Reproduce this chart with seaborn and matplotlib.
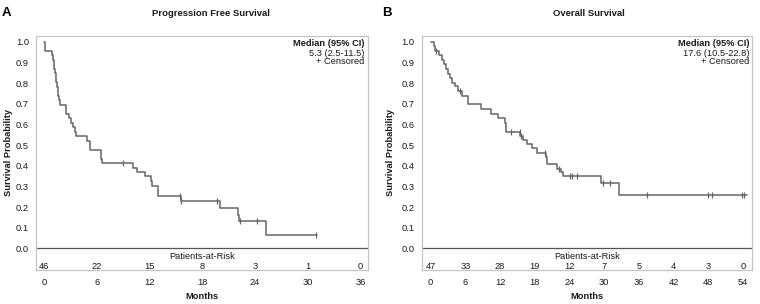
import numpy as np
import pandas as pd
import matplotlib
matplotlib.use("Agg")
import matplotlib.pyplot as plt
import seaborn as sns

# ---------------- data ----------------
# Progression free survival: event times (months) and survival after each event
pfs_times = [0.1, 0.85, 1.0, 1.08, 1.15, 1.22, 1.3, 1.38, 1.45, 1.52, 1.6, 1.68, 1.75,
             2.45, 2.5, 2.85, 3.0, 3.25, 3.5, 3.55, 4.9, 5.2, 5.25, 6.45, 6.5, 6.6,
             10.1, 10.5, 11.5, 12.2, 12.25, 12.9, 12.95, 15.6, 20.05, 22.1, 22.15, 25.2]
pfs_surv = [0.957, 0.935, 0.913, 0.891, 0.870, 0.848, 0.826, 0.804, 0.783, 0.761, 0.739, 0.717, 0.696,
            0.674, 0.652, 0.630, 0.609, 0.587, 0.565, 0.543, 0.522, 0.500, 0.478, 0.457, 0.435, 0.413,
            0.391, 0.370, 0.348, 0.324, 0.300, 0.277, 0.254, 0.228, 0.195, 0.163, 0.130, 0.065]
pfs_end = 31.0
pfs_cens_t = [8.95, 15.45, 15.6, 19.7, 22.3, 24.2, 30.9]
pfs_cens_s = [0.413, 0.254, 0.228, 0.228, 0.130, 0.130, 0.065]

# Overall survival
os_times = [0.5, 0.8, 1.5, 2.0, 2.3, 2.7, 3.0, 3.3, 3.6, 4.25, 4.7, 5.4, 6.4, 6.45,
            8.7, 10.4, 11.6, 12.9, 13.0, 13.1, 15.5, 16.0, 16.6, 17.5, 18.4, 19.9, 20.1,
            21.8, 22.6, 22.9, 29.4, 32.6]
os_surv = [0.979, 0.957, 0.935, 0.913, 0.891, 0.868, 0.846, 0.824, 0.802, 0.784, 0.762, 0.738, 0.716, 0.697,
           0.675, 0.652, 0.630, 0.608, 0.586, 0.564, 0.542, 0.524, 0.506, 0.487, 0.463, 0.440, 0.407,
           0.386, 0.370, 0.351, 0.315, 0.260]
os_end = 54.7
os_cens_t = [1.0, 5.05, 13.9, 15.4, 15.55, 19.7, 22.2, 24.1, 24.5, 25.4, 29.9, 31.0, 37.4, 47.9, 48.6, 53.8, 54.2]
os_cens_s = [0.957, 0.762, 0.564, 0.564, 0.542, 0.463, 0.386, 0.351, 0.351, 0.351, 0.315, 0.315,
             0.260, 0.260, 0.260, 0.260, 0.260]

pfs_xticks = [0, 6, 12, 18, 24, 30, 36]
pfs_risk = [46, 22, 15, 8, 3, 1, 0]
os_xticks = [0, 6, 12, 18, 24, 30, 36, 42, 48, 54]
os_risk = [47, 33, 28, 19, 12, 7, 5, 4, 3, 0]

yticks = [0.0, 0.1, 0.2, 0.3, 0.4, 0.5, 0.6, 0.7, 0.8, 0.9, 1.0]

titles = ["Progression Free Survival", "Overall Survival"]
medians = ["5.3 (2.5-11.5)", "17.6 (10.5-22.8)"]
letters = ["A", "B"]

# ---------------- style ----------------
sns.set_style("white")
plt.rcParams["font.family"] = ["Liberation Sans", "DejaVu Sans"]

LINE = "#666666"
FRAME = "#c4c4c4"
TXT = "#1a1a1a"
FS = 6.7

fig = plt.figure(figsize=(7.6, 3.04), dpi=100)
W, H = 760.0, 304.0

panels = [
    dict(rect=[36 / W, 34 / H, 332 / W, 234.3 / H], xlim=(-0.95, 36.85),
         times=pfs_times, surv=pfs_surv, end=pfs_end, ct=pfs_cens_t, cs=pfs_cens_s,
         xticks=pfs_xticks, risk=pfs_risk, title_x=211, leg_x=0.988, ylab_x=-0.083),
    dict(rect=[421.7 / W, 34 / H, 330.3 / W, 234.3 / H], xlim=(-1.56, 55.6),
         times=os_times, surv=os_surv, end=os_end, ct=os_cens_t, cs=os_cens_s,
         xticks=os_xticks, risk=os_risk, title_x=589, leg_x=0.992, ylab_x=-0.095),
]

for i, p in enumerate(panels):
    ax = fig.add_axes(p["rect"])
    t = [0.0] + list(p["times"]) + [p["end"]]
    s = [1.0] + list(p["surv"]) + [p["surv"][-1]]
    df = pd.DataFrame({"Months": t, "Survival": s})
    sns.lineplot(data=df, x="Months", y="Survival", ax=ax, drawstyle="steps-post",
                 color=LINE, linewidth=1.1, estimator=None, sort=False)
    cdf = pd.DataFrame({"Months": p["ct"], "Survival": p["cs"]})
    sns.scatterplot(data=cdf, x="Months", y="Survival", ax=ax, marker="|", s=22,
                    color=LINE, linewidth=0.9, zorder=3)

    ax.axhline(0, color="#555555", lw=0.9, zorder=2)
    ax.set_xlim(*p["xlim"])
    ax.set_ylim(-0.105, 1.03)
    ax.set_yticks(yticks)
    ax.set_yticklabels([f"{v:.1f}" for v in yticks])
    ax.set_xticks(p["xticks"])
    ax.set_xticklabels([str(v) for v in p["xticks"]])
    ax.tick_params(axis="both", direction="out", length=3, width=0.7, color="#888888",
                   labelsize=FS, labelcolor=TXT, pad=2)
    ax.tick_params(axis="x", pad=3)
    for sp in ax.spines.values():
        sp.set_color(FRAME)
        sp.set_linewidth(0.9)

    ax.set_xlabel("Months", fontsize=FS, fontweight="bold", color=TXT)
    ax.xaxis.set_label_coords(0.5, -0.115)
    ax.xaxis.label.set_verticalalignment("center")
    ax.set_ylabel("Survival Probability", fontsize=FS, fontweight="bold", color=TXT)
    ax.yaxis.set_label_coords(p["ylab_x"], 0.5)
    ax.yaxis.label.set_verticalalignment("center")

    # at-risk table
    xmid = (p["xlim"][0] + p["xlim"][1]) / 2
    ax.text(xmid, -0.042, "Patients-at-Risk", ha="center", va="center", fontsize=FS, color=TXT)
    for xv, n in zip(p["xticks"], p["risk"]):
        ax.text(xv, -0.086, str(n), ha="center", va="center", fontsize=FS, color=TXT)

    # legend text
    ax.text(p["leg_x"], 0.9646, "Median (95% CI)", transform=ax.transAxes, ha="right",
            va="center", fontsize=FS, fontweight="bold", color=TXT)
    ax.text(p["leg_x"], 0.926, medians[i], transform=ax.transAxes, ha="right",
            va="center", fontsize=FS, color=TXT)
    ax.text(p["leg_x"], 0.891, "+ Censored", transform=ax.transAxes, ha="right",
            va="center", fontsize=FS, color=TXT)

    fig.text(p["title_x"] / W, 1 - 14 / H, titles[i], ha="center", va="center",
             fontsize=6.8, fontweight="bold", color=TXT)
    lx = 6 if i == 0 else 387
    fig.text(lx / W, 1 - 12.5 / H, letters[i], ha="center", va="center",
             fontsize=9.5, fontweight="bold", color="#000000")

fig.savefig("out.png", dpi=100, facecolor="white")
